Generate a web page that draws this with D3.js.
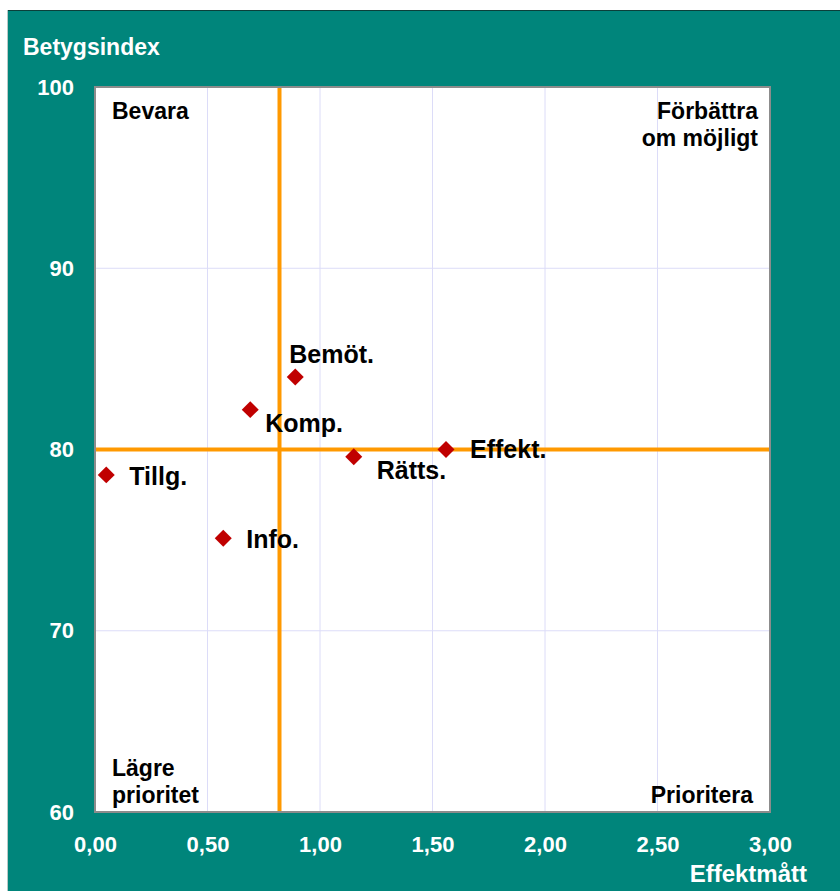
<!DOCTYPE html>
<html>
<head>
<meta charset="utf-8">
<script src="https://cdn.jsdelivr.net/npm/d3@7"></script>
<style>
  body { margin: 0; background: #fff; }
  text { font-family: "Liberation Sans", Arial, sans-serif; font-weight: bold; }
</style>
</head>
<body>
<div id="chart"></div>
<script>
// Data
const names  = ["Tillg.", "Info.", "Komp.", "Bemöt.", "Rätts.", "Effekt."];
const effekt = [0.05, 0.57, 0.69, 0.89, 1.15, 1.56];
const betyg  = [78.6, 75.1, 82.2, 84.0, 79.6, 80.0];
// label offsets from the marker (px)
const labelDx = [23, 23, 15, -6, 23, 24];
const labelDy = [10, 10, 22, -14, 22, 8];

const xTicks = [0, 0.5, 1, 1.5, 2, 2.5, 3];
const yTicks = [60, 70, 80, 90, 100];
const xMean = 0.82, yMean = 80;

const W = 840, H = 891;
const margin = {top: 87, right: 70, bottom: 79, left: 95},
      width = W - margin.left - margin.right,
      height = H - margin.top - margin.bottom;

const svg = d3.select("#chart").append("svg")
  .attr("width", W).attr("height", H);

// teal background
svg.append("rect").attr("x", 7).attr("y", 10).attr("width", W - 7).attr("height", H - 10)
  .attr("fill", "#00857b");
svg.append("line").attr("x1", 7).attr("x2", W).attr("y1", 10.5).attr("y2", 10.5)
  .attr("stroke", "#0b3f3a").attr("stroke-width", 1);
svg.append("line").attr("x1", 7.5).attr("x2", 7.5).attr("y1", 10).attr("y2", H)
  .attr("stroke", "#b9c9c6").attr("stroke-width", 1);

const g = svg.append("g").attr("transform", `translate(${margin.left},${margin.top})`);

const x = d3.scaleLinear().domain([0, 3]).range([0, width]);
const y = d3.scaleLinear().domain([60, 100]).range([height, 0]);

g.append("rect").attr("width", width).attr("height", height).attr("fill", "#fff");

// grid
g.selectAll(".vgrid").data(xTicks.slice(1, -1)).enter().append("line")
  .attr("x1", d => x(d)).attr("x2", d => x(d)).attr("y1", 0).attr("y2", height)
  .attr("stroke", "#dcdcf8").attr("stroke-width", 1);
g.selectAll(".hgrid").data(yTicks.slice(1, -1)).enter().append("line")
  .attr("x1", 0).attr("x2", width).attr("y1", d => y(d)).attr("y2", d => y(d))
  .attr("stroke", "#dcdcf8").attr("stroke-width", 1);

// mean lines
g.append("line").attr("x1", x(xMean)).attr("x2", x(xMean)).attr("y1", 0).attr("y2", height)
  .attr("stroke", "#ff9900").attr("stroke-width", 4);
g.append("line").attr("x1", 0).attr("x2", width).attr("y1", y(yMean)).attr("y2", y(yMean))
  .attr("stroke", "#ff9900").attr("stroke-width", 4);

// plot border
g.append("rect").attr("width", width).attr("height", height)
  .attr("fill", "none").attr("stroke", "#8c8c8c").attr("stroke-width", 2);

// axes
const xAxis = g.append("g").attr("transform", `translate(0,${height})`)
  .call(d3.axisBottom(x).tickValues(xTicks).tickSize(0).tickPadding(24)
    .tickFormat(d => d3.format(".2f")(d).replace(".", ",")));
const yAxis = g.append("g")
  .call(d3.axisLeft(y).tickValues(yTicks).tickSize(0).tickPadding(21));
[xAxis, yAxis].forEach(a => {
  a.select(".domain").remove();
  a.selectAll("text").attr("fill", "#fff").style("font-size", "22px")
    .style("font-family", "'Liberation Sans', Arial, sans-serif").style("font-weight", "bold");
});

// axis titles
svg.append("text").attr("x", 23).attr("y", 55).attr("fill", "#fff")
  .style("font-size", "23px").text("Betygsindex");
svg.append("text").attr("x", 807).attr("y", 882).attr("text-anchor", "end").attr("fill", "#fff")
  .style("font-size", "24px").text("Effektmått");

// quadrant labels
const q = (tx, ty, anchor, lines) => {
  lines.forEach((l, i) => g.append("text").attr("x", tx).attr("y", ty + i * 27)
    .attr("text-anchor", anchor).attr("fill", "#000").style("font-size", "23px").text(l));
};
q(17, 32, "start", ["Bevara"]);
q(width - 12, 32, "end", ["Förbättra", "om möjligt"]);
q(17, 689, "start", ["Lägre", "prioritet"]);
q(width - 17, 716, "end", ["Prioritera"]);

// points
const pts = names.map((n, i) => ({name: n, x: effekt[i], y: betyg[i], dx: labelDx[i], dy: labelDy[i]}));
g.selectAll(".pt").data(pts).enter().append("path")
  .attr("d", d3.symbol().type(d3.symbolSquare).size(144))
  .attr("transform", d => `translate(${x(d.x)},${y(d.y)}) rotate(45)`)
  .attr("fill", "#c00000");
g.selectAll(".lbl").data(pts).enter().append("text")
  .attr("x", d => x(d.x) + d.dx).attr("y", d => y(d.y) + d.dy)
  .attr("fill", "#000").style("font-size", "25px").text(d => d.name);
</script>
</body>
</html>
